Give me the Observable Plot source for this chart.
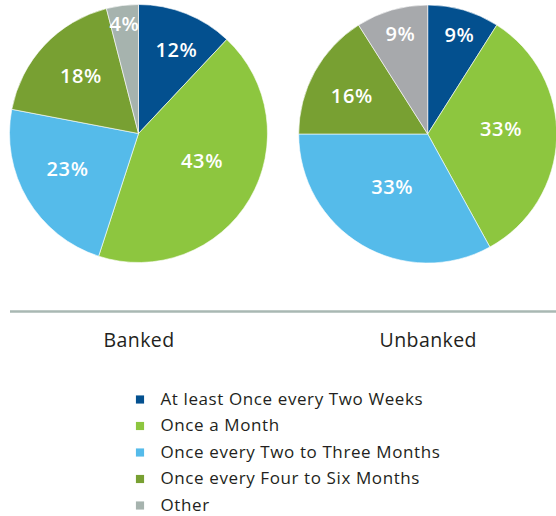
<!DOCTYPE html>
<html><head><meta charset="utf-8">
<script src="https://cdn.jsdelivr.net/npm/d3@7"></script>
<script src="https://cdn.jsdelivr.net/npm/@observablehq/plot@0.6"></script>
<style>body{margin:0;background:#fff} svg{display:block}</style>
</head><body><div id="chart"></div>
<script>
// ---- data ----
const categories = ["At least Once every Two Weeks", "Once a Month", "Once every Two to Three Months", "Once every Four to Six Months", "Other"];
const groups = ["Banked", "Unbanked"];
const bankedValues = [12, 43, 23, 18, 4];
const unbankedValues = [9, 33, 33, 16, 9];

// ---- styles / layout ----
const colors = {
  Banked: ["#03508f", "#8dc63f", "#55bbea", "#78a032", "#a6b3ae"],
  Unbanked: ["#03508f", "#8dc63f", "#55bbea", "#78a032", "#a7a9ac"]
};
const W = 556, H = 516, R = 129;
const centers = {Banked: [138.5, 133.5], Unbanked: [427.7, 134]};
// label placement: distance from centre (px) and angular nudge (deg) from the slice middle
const labelR = {Banked: [91, 69, 80, 81.5, 110], Unbanked: [104, 73, 64.5, 85.4, 103.3]};
const labelNudge = {Banked: [2.7, -6.6, 3.9, 1.4, -0.4], Unbanked: [1.3, -5.7, 3.3, -2.2, 0.6]};
const FONT = "'Open Sans', sans-serif";

const valuesByGroup = {Banked: bankedValues, Unbanked: unbankedValues};
const pie = d3.pie().sort(null).value(d => d);
const slices = groups.flatMap(g => pie(valuesByGroup[g]).map((a, i) => ({
  group: g, category: categories[i], value: a.data, index: i,
  startAngle: a.startAngle, endAngle: a.endAngle,
  mid: (a.startAngle + a.endAngle) / 2 + labelNudge[g][i] * Math.PI / 180,
  color: colors[g][i]
})));

const wedges = (index, scales) => {
  const {x, y} = scales;
  const g = d3.create("svg:g");
  for (const s of slices) {
    const [cx, cy] = centers[s.group];
    const px = x(cx), py = y(cy), rr = x(cx + R) - px;
    g.append("path")
      .attr("transform", `translate(${px},${py})`)
      .attr("d", d3.arc()({innerRadius: 0, outerRadius: rr, startAngle: s.startAngle, endAngle: s.endAngle}))
      .attr("fill", s.color)
      .attr("stroke", "#ffffff")
      .attr("stroke-width", 0.6);
  }
  return g.node();
};

const legendY = i => 399 + i * 26.5;

const chart = Plot.plot({
  width: W, height: H,
  margin: 0,
  x: {type: "linear", domain: [0, W], range: [0, W], axis: null},
  y: {type: "linear", domain: [0, H], range: [0, H], axis: null},
  color: {type: "identity"},
  style: {fontFamily: FONT, background: "#fff"},
  marks: [
    wedges,
    Plot.text(slices, {
      x: d => centers[d.group][0] + labelR[d.group][d.index] * Math.sin(d.mid),
      y: d => centers[d.group][1] - labelR[d.group][d.index] * Math.cos(d.mid),
      text: d => d.value + "%",
      fill: "#ffffff", fontSize: 20, fontWeight: 600
    }),
    Plot.ruleY([311], {x1: 10, x2: W, stroke: "#a9b8b3", strokeWidth: 2.5}),
    Plot.text(groups, {
      x: d => centers[d][0], y: 340, text: d => d,
      fill: "#231f20", fontSize: 19.5
    }),
    Plot.dot(categories, {
      x: 139.5, y: (d, i) => legendY(i), symbol: "square", r: 4.6,
      fill: (d, i) => colors.Banked[i]
    }),
    Plot.text(categories, {
      x: 160, y: (d, i) => legendY(i), text: d => d, textAnchor: "start",
      fill: "#231f20", fontSize: 17
    })
  ]
});
const textGroups = chart.querySelectorAll('g[aria-label="text"]');
const spacing = ["0.6px", "0.4px", "0.6px"];
textGroups.forEach((g, i) => g.style.letterSpacing = spacing[i] || "0");
document.getElementById("chart").appendChild(chart);
</script>
</body></html>
